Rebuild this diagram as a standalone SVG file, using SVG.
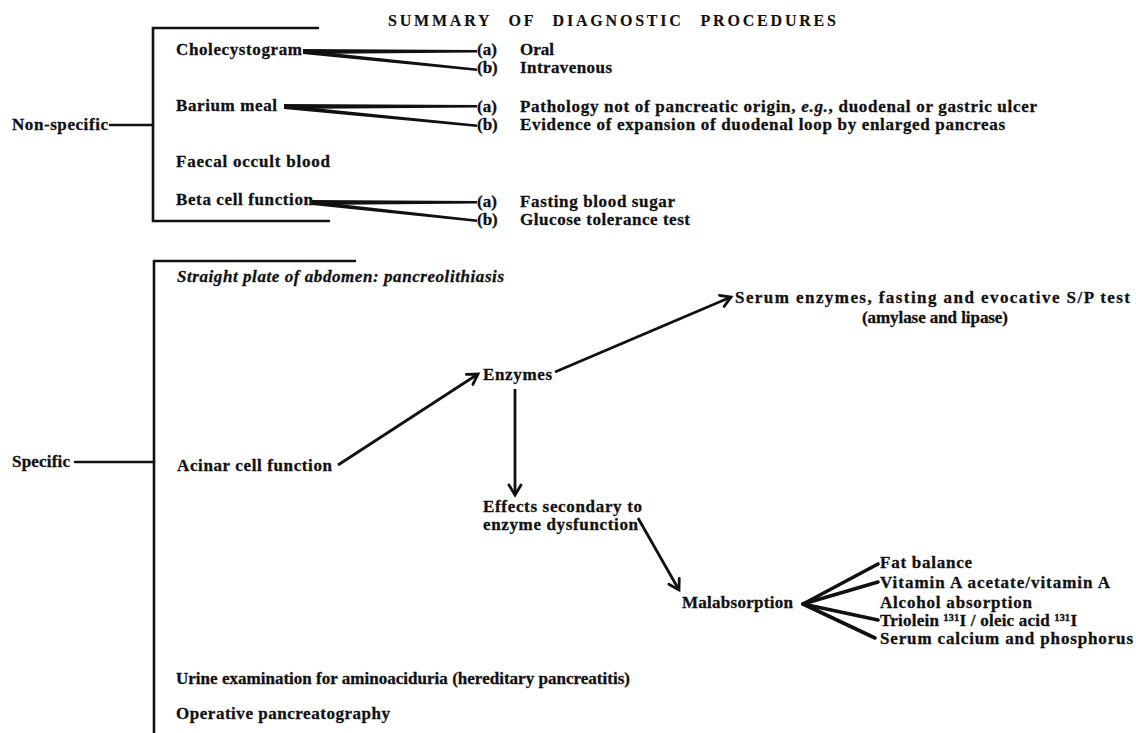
<svg xmlns="http://www.w3.org/2000/svg" width="1136" height="733" viewBox="0 0 1136 733">
<style>
  text { font-family: "Liberation Serif", "Times New Roman", serif; font-weight: bold; font-size: 17px; fill: #111; stroke: #111; stroke-width: 0.3; }
  .it { font-style: italic; }
  .title { font-size: 16px; letter-spacing: 2.8px; word-spacing: 10px; stroke-width: 0.15; }
  .ln { stroke: #111; stroke-width: 2.6; fill: none; stroke-linecap: round; }
  .wedge { fill: #111; stroke: none; }
  .arr { stroke: #111; stroke-width: 2.8; fill: none; marker-end: url(#ah); }
  .fan { stroke: #111; stroke-width: 3.6; fill: none; stroke-linecap: round; }
</style>
<defs>
  <marker id="ah" markerUnits="userSpaceOnUse" markerWidth="16" markerHeight="16" refX="12" refY="7" orient="auto" viewBox="0 0 16 14">
    <path d="M2,1 L12,7 L2,13" stroke="#111" stroke-width="2.8" fill="none" stroke-linecap="round" stroke-linejoin="miter"/>
  </marker>
</defs>
<rect width="1136" height="733" fill="#fff"/>

<text id="title" class="title" x="388" y="26">SUMMARY OF DIAGNOSTIC PROCEDURES</text>

<g id="connectors">
  <!-- Non-specific bracket -->
  <path class="ln" d="M318,28 L153,28 L153,221 L329,221"/>
  <path class="ln" d="M110,125 L153,125"/>
  <!-- Specific bracket -->
  <path class="ln" d="M355,261 L154,261 L154,733"/>
  <path class="ln" d="M75,462 L154,462"/>
  <!-- Cholecystogram fork -->
  <polygon class="wedge" points="303,49 477,50 477,52.5 303,54"/>
  <polygon class="wedge" points="303,50 477,68.5 477,71 303,54"/>
  <!-- Barium meal fork -->
  <polygon class="wedge" points="284,104 477,105 477,107.5 284,109"/>
  <polygon class="wedge" points="284,105 477,124.5 477,127 284,109"/>
  <!-- Beta cell fork -->
  <polygon class="wedge" points="312,200 477,201 477,203.5 312,205"/>
  <polygon class="wedge" points="312,201 477,219.5 477,222 312,205"/>
  <!-- Arrows -->
  <line class="arr" x1="338" y1="465" x2="478" y2="374"/>
  <line class="arr" x1="555" y1="372" x2="731" y2="297"/>
  <line class="arr" x1="515" y1="389" x2="515" y2="495"/>
  <line class="arr" x1="638" y1="518" x2="679" y2="590"/>
  <!-- Malabsorption fan -->
  <line class="fan" x1="803" y1="604" x2="878" y2="564"/>
  <line class="fan" x1="803" y1="604" x2="878" y2="582"/>
  <line class="fan" x1="803" y1="604" x2="878" y2="620"/>
  <line class="fan" x1="803" y1="604" x2="875" y2="638"/>
</g>

<g id="non-specific"><text x="12" y="130" textLength="96">Non-specific</text></g>
<g id="cholecystogram"><text x="176" y="55" textLength="126">Cholecystogram</text></g>
<g id="chole-a"><text x="477" y="55">(a)</text><text x="520" y="55" textLength="34">Oral</text></g>
<g id="chole-b"><text x="477" y="73">(b)</text><text x="520" y="73" textLength="92">Intravenous</text></g>
<g id="barium"><text x="176" y="111" textLength="101">Barium meal</text></g>
<g id="barium-a"><text x="477" y="112">(a)</text><text x="520" y="112" textLength="517">Pathology not of pancreatic origin, <tspan class="it">e.g.</tspan>, duodenal or gastric ulcer</text></g>
<g id="barium-b"><text x="477" y="130">(b)</text><text x="520" y="130" textLength="485">Evidence of expansion of duodenal loop by enlarged pancreas</text></g>
<g id="faecal"><text x="176" y="167" textLength="154">Faecal occult blood</text></g>
<g id="beta"><text x="176" y="205" textLength="137">Beta cell function</text></g>
<g id="beta-a"><text x="477" y="207">(a)</text><text x="520" y="207" textLength="155">Fasting blood sugar</text></g>
<g id="beta-b"><text x="477" y="225">(b)</text><text x="520" y="225" textLength="170">Glucose tolerance test</text></g>

<g id="specific"><text x="12" y="467" textLength="58">Specific</text></g>
<g id="straight-plate"><text class="it" x="177" y="282" textLength="327">Straight plate of abdomen: pancreolithiasis</text></g>
<g id="acinar"><text x="177" y="471" textLength="155">Acinar cell function</text></g>
<g id="enzymes"><text x="483" y="380" textLength="69">Enzymes</text></g>
<g id="serum-enzymes">
  <text x="735" y="303" textLength="395">Serum enzymes, fasting and evocative S/P test</text>
  <text x="862" y="323" textLength="146">(amylase and lipase)</text>
</g>
<g id="effects">
  <text x="483" y="512" textLength="159">Effects secondary to</text>
  <text x="483" y="530" textLength="155">enzyme dysfunction</text>
</g>
<g id="malabsorption"><text x="682" y="608" textLength="111">Malabsorption</text></g>
<g id="fat-balance"><text x="880" y="568" textLength="92">Fat balance</text></g>
<g id="vitamin-a"><text x="880" y="588" textLength="230">Vitamin A acetate/vitamin A</text></g>
<g id="alcohol"><text x="880" y="608" textLength="152">Alcohol absorption</text></g>
<g id="triolein"><text x="880" y="626" textLength="197">Triolein ¹³¹I / oleic acid ¹³¹I</text></g>
<g id="serum-calcium"><text x="880" y="644" textLength="253">Serum calcium and phosphorus</text></g>
<g id="urine"><text x="176" y="684" textLength="454">Urine examination for aminoaciduria (hereditary pancreatitis)</text></g>
<g id="operative"><text x="176" y="719" textLength="214">Operative pancreatography</text></g>
</svg>
